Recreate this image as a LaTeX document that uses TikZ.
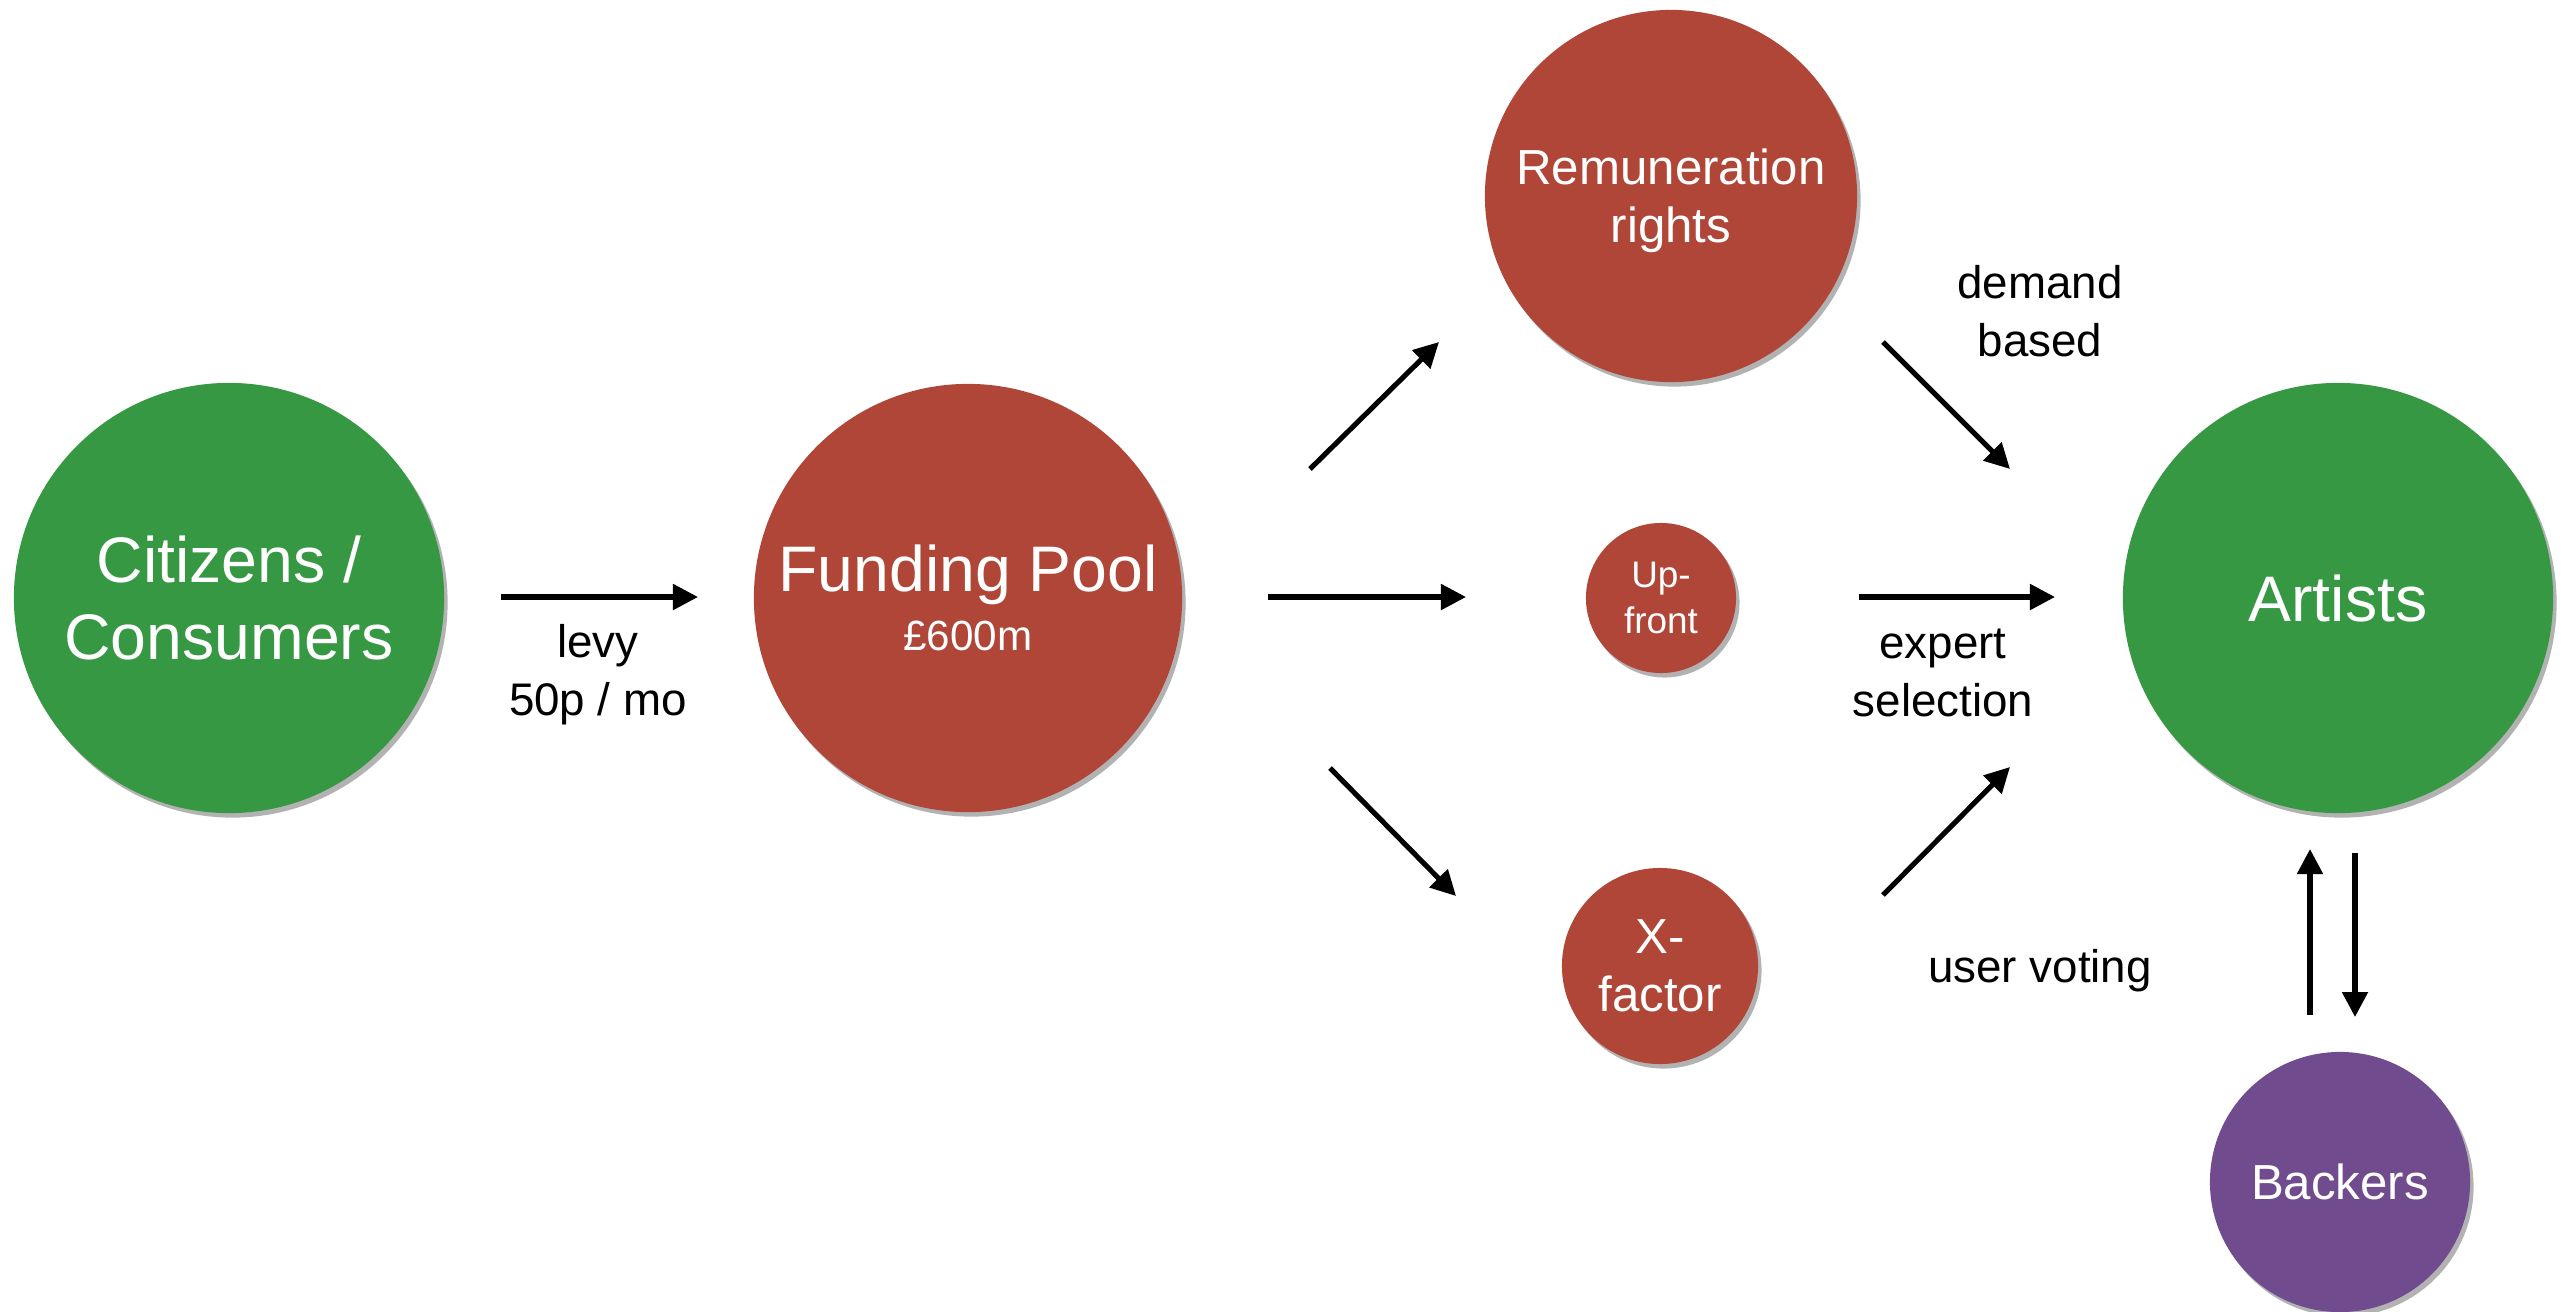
\documentclass[tikz,border=0pt]{standalone}
\usepackage{fontspec}
\setmainfont{Liberation Sans}
\usetikzlibrary{arrows.meta,shadows}
\definecolor{cgreen}{RGB}{54,152,66}
\definecolor{cred}{RGB}{175,70,55}
\definecolor{cpurple}{RGB}{112,75,142}
\tikzset{
  circ/.style={circle, inner sep=0pt, text=white, align=center,
    drop shadow={shadow xshift=0.035cm, shadow yshift=-0.045cm, opacity=0.3, fill=black}},
  flow/.style={line width=1.45pt, -{Triangle[length=0.25cm,width=0.25cm]}},
  lbl/.style={align=center, text=black, font=\fontsize{13}{16.5}\selectfont}
}
\begin{document}
\begin{tikzpicture}[x=0.01cm,y=-0.01cm]
\useasboundingbox[fill=white] (0,0) rectangle (2568,1311);

\node[circ, fill=cgreen, minimum size=4.3cm, font=\fontsize{18.3}{21.9}\selectfont] (cit) at (229,598) {Citizens /\\Consumers};
\node[circ, fill=cred, minimum size=4.28cm] (fp) at (968,598) {{\fontsize{18.3}{21.9}\selectfont Funding Pool}\\[3.4pt]{\fontsize{12}{14}\selectfont £600m}};
\node[circ, fill=cred, minimum size=3.72cm, font=\fontsize{14}{16.5}\selectfont, text depth=-0.6pt] (rem) at (1671,196) {Remuneration\\rights};
\node[circ, fill=cred, minimum size=1.5cm, font=\fontsize{10.5}{13}\selectfont] (up) at (1661,598) {Up-\\front};
\node[circ, fill=cred, minimum size=1.96cm, font=\fontsize{14}{16.5}\selectfont] (xf) at (1660,966) {X-\\factor};
\node[circ, fill=cgreen, minimum size=4.3cm, font=\fontsize{18.3}{21.9}\selectfont] (art) at (2338,598) {Artists};
\node[circ, fill=cpurple, minimum size=2.6cm, font=\fontsize{14}{16.5}\selectfont] (bk) at (2340,1182) {Backers};

% arrow end points
\coordinate (a1s) at (501,597);  \coordinate (a1e) at (698,597);
\coordinate (a2s) at (1310,469); \coordinate (a2e) at (1439,342);
\coordinate (a3s) at (1268,597); \coordinate (a3e) at (1466,597);
\coordinate (a4s) at (1330,768); \coordinate (a4e) at (1456,896);
\coordinate (a5s) at (1883,342); \coordinate (a5e) at (2010,469);
\coordinate (a6s) at (1859,597); \coordinate (a6e) at (2055,597);
\coordinate (a7s) at (1883,895); \coordinate (a7e) at (2010,767);
\coordinate (a8s) at (2310,1015); \coordinate (a8e) at (2310,849);
\coordinate (a9s) at (2355,853); \coordinate (a9e) at (2355,1017);

\draw[flow] (a1s) -- (a1e);
\draw[flow] (a2s) -- (a2e);
\draw[flow] (a3s) -- (a3e);
\draw[flow] (a4s) -- (a4e);
\draw[flow] (a5s) -- (a5e);
\draw[flow] (a6s) -- (a6e);
\draw[flow] (a7s) -- (a7e);
\draw[flow] (a8s) -- (a8e);
\draw[flow] (a9s) -- (a9e);

\node[lbl] (levy) at (598,675) {levy\\50p / mo};
\node[lbl] (dem) at (2040,311) {demand\\based};
\node[lbl] (exp) at (1943,673) {expert\\selection};
\node[lbl] (vote) at (2040,971) {user voting};
\end{tikzpicture}
\end{document}
